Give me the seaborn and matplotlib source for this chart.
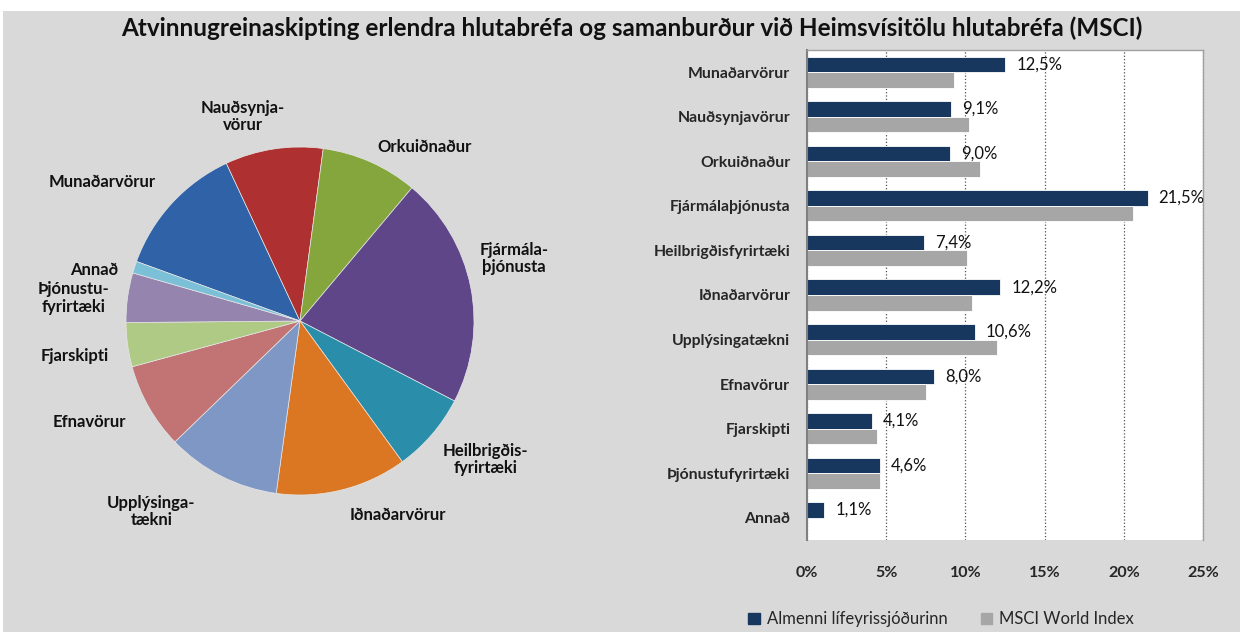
import numpy as np
import pandas as pd
import matplotlib
matplotlib.use("Agg")
import matplotlib.pyplot as plt
import seaborn as sns
from matplotlib.patches import Rectangle

# -------------------------------
# data
# -------------------------------
categories = ["Munaðarvörur", "Nauðsynjavörur", "Orkuiðnaður", "Fjármálaþjónusta",
              "Heilbrigðisfyrirtæki", "Iðnaðarvörur", "Upplýsingatækni", "Efnavörur",
              "Fjarskipti", "Þjónustufyrirtæki", "Annað"]
pie_labels = ["Munaðarvörur", "Nauðsynja-\nvörur", "Orkuiðnaður", "Fjármála-\nþjónusta",
              "Heilbrigðis-\nfyrirtæki", "Iðnaðarvörur", "Upplýsinga-\ntækni", "Efnavörur",
              "Fjarskipti", "Þjónustu-\nfyrirtæki", "Annað"]
fund = [12.5, 9.1, 9.0, 21.5, 7.4, 12.2, 10.6, 8.0, 4.1, 4.6, 1.1]
msci = [9.3, 10.2, 10.9, 20.6, 10.1, 10.4, 12.0, 7.5, 4.4, 4.6, 0.0]
series = ["Almenni lífeyrissjóðurinn", "MSCI World Index"]
xticks = [0, 5, 10, 15, 20, 25]

# label placement round the pie: angle shift from slice middle (deg), distance (radii)
label_shift = [7.5, 7, -11.7, 5, 4, 12.6, -11, -4, 1, 2, 4]
label_dist = [1.39, 1.22, 1.23, 1.28, 1.33, 1.25, 1.39, 1.34, 1.31, 1.31, 1.22]

pie_colors = ["#2F62A6", "#AE3030", "#84A63C", "#5F4688", "#2A8EAA", "#DB7622",
              "#7E97C4", "#C27474", "#AFCA84", "#9584AE", "#7CC0D8"]
bar_colors = ["#17375E", "#A6A6A6"]

title = "Atvinnugreinaskipting erlendra hlutabréfa og samanburður við Heimsvísitölu hlutabréfa (MSCI)"

sns.set_style("white")
plt.rcParams["font.family"] = ["Lato", "DejaVu Sans"]

fig = plt.figure(figsize=(12.43, 6.32), dpi=100)
fig.patch.set_facecolor("white")
fig.patches.append(Rectangle((3 / 1243, 0), 1 - 6 / 1243, 1 - 11 / 632,
                             transform=fig.transFigure, facecolor="#D9D9D9",
                             edgecolor="none", zorder=-10))

fig.text(0.508, 0.955, title, ha="center", va="center", fontsize=17.5, fontweight="bold",
         color="#111111")

# -------------------------------
# pie
# -------------------------------
ax1 = fig.add_axes([50 / 1243, 1 - 571 / 632, 500 / 1243, 500 / 632])
wedges, _ = ax1.pie(fund, colors=pie_colors, startangle=160, counterclock=False,
                    radius=1, wedgeprops=dict(edgecolor="#E6E6E6", linewidth=0.5))
lim = 250 / 174
ax1.set_xlim(-lim, lim)
ax1.set_ylim(-lim, lim)
ax1.axis("off")

for w, lab, sh, r in zip(wedges, pie_labels, label_shift, label_dist):
    ang = np.deg2rad((w.theta1 + w.theta2) / 2 + sh)
    ax1.text(r * np.cos(ang), r * np.sin(ang), lab, ha="center", va="center",
             fontsize=12, fontweight="bold", color="#111111", linespacing=1.1)

# -------------------------------
# bars
# -------------------------------
df = pd.DataFrame({
    "Atvinnugrein": categories * 2,
    "Sjóður": [series[0]] * len(categories) + [series[1]] * len(categories),
    "Hlutfall": fund + msci,
})

ax2 = fig.add_axes([807 / 1243, 1 - 540 / 632, 396 / 1243, 490 / 632])
ax2.set_facecolor("white")
sns.barplot(data=df, y="Atvinnugrein", x="Hlutfall", hue="Sjóður", order=categories,
            hue_order=series, palette=bar_colors, orient="h", width=0.7,
            saturation=1, ax=ax2, legend=False, edgecolor="white", linewidth=0.6)

ax2.set_xlim(0, 25)
ax2.set_xticks(xticks)
ax2.set_xticklabels([f"{t}%" for t in xticks], fontweight="bold", fontsize=11.5)
ax2.tick_params(axis="x", length=0, pad=19)
ax2.tick_params(axis="y", length=0, pad=12)
for lab in ax2.get_yticklabels():
    lab.set_fontweight("bold")
    lab.set_fontsize(11.3)
ax2.set_xlabel("")
ax2.set_ylabel("")
ax2.xaxis.grid(True, linestyle=":", color="#505050", linewidth=0.9)
ax2.set_axisbelow(True)
for s in ["top", "right"]:
    ax2.spines[s].set_color("#A0A0A0")
    ax2.spines[s].set_linewidth(1)
ax2.spines["bottom"].set_visible(False)
ax2.spines["left"].set_color("#808080")
ax2.spines["left"].set_linewidth(1.5)

labels = [f"{v:.1f}%".replace(".", ",") for v in fund]
ax2.bar_label(ax2.containers[0], labels=labels, padding=8, fontsize=12, color="#111111")

handles = [Rectangle((0, 0), 1, 1, color=c) for c in bar_colors]
fig.legend(handles, series, loc="center", bbox_to_anchor=(0.757, 0.02), ncol=2,
           frameon=False, fontsize=12, handlelength=0.7, handleheight=0.7,
           columnspacing=2.0, handletextpad=0.4)

fig.savefig("out.png", dpi=100, facecolor=fig.get_facecolor())
